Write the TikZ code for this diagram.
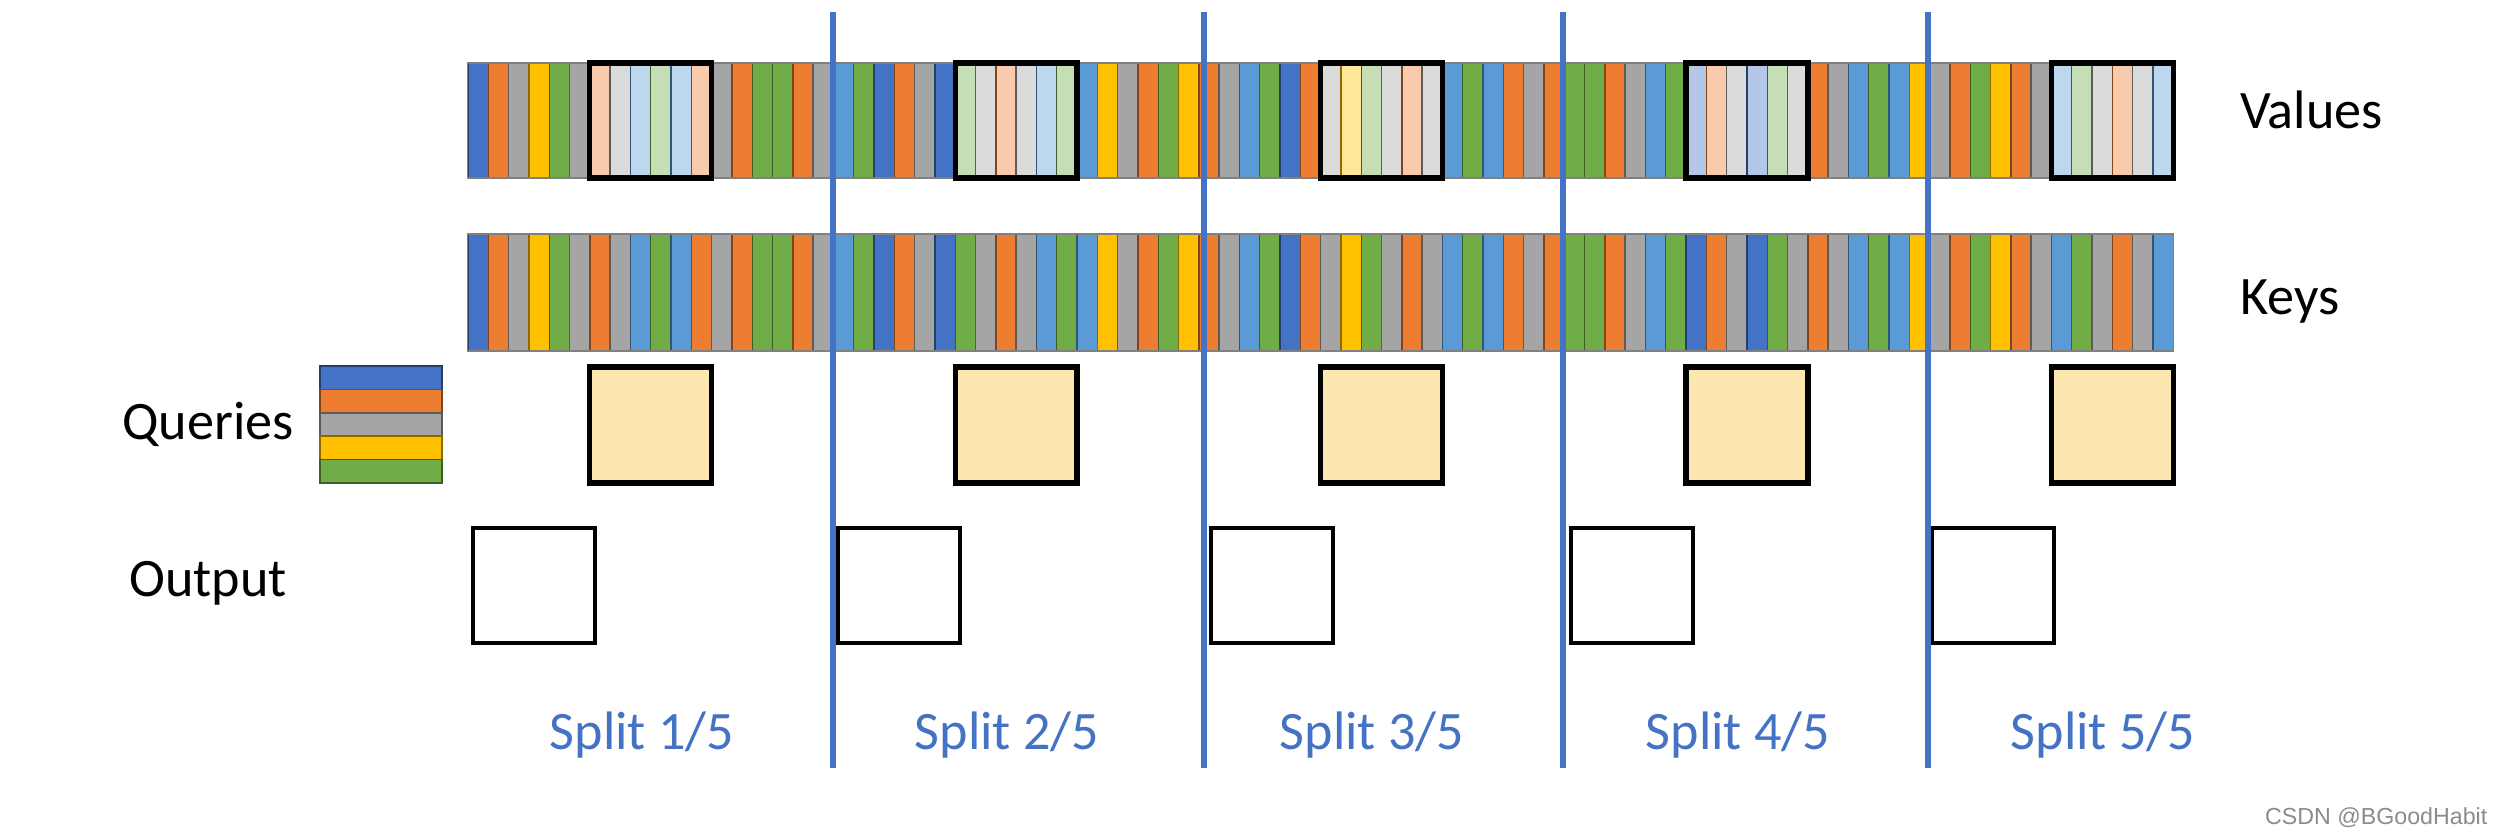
\documentclass[tikz,border=0pt]{standalone}
\usepackage{fontspec}
\setmainfont{Carlito}
\newfontfamily\wmfont{Liberation Sans}
\usetikzlibrary{positioning}

\definecolor{kblue}{HTML}{4472C4}
\definecolor{korange}{HTML}{ED7D31}
\definecolor{kgray}{HTML}{A5A5A5}
\definecolor{kyellow}{HTML}{FFC000}
\definecolor{kgreen}{HTML}{70AD47}
\definecolor{klblue}{HTML}{5B9BD5}
\definecolor{qcream}{RGB}{253,231,176}

% stripe order of the keys (values use the same one)
\def\pata{kblue,korange,kgray,kyellow,kgreen,kgray,korange,kgray,klblue,kgreen,klblue,korange,kgray,korange,kgreen,kgreen,korange,kgray,klblue,kgreen}
\def\patb{kblue,korange,kgray,kblue,kgreen,kgray,korange,kgray,klblue,kgreen,klblue,kyellow,kgray,korange,kgreen,kyellow,korange,kgray,klblue,kgreen}
\edef\keylist{\pata,\patb,\pata,\patb,kgray,korange,kgray,klblue}

\tikzset{
  lbl/.style={inner sep=0pt, font=\fontsize{15.4}{18}\selectfont},
  splitlbl/.style={lbl, text=kblue},
  splitline/.style={kblue, line width=1.5pt},
  vbox/.style={draw=black, line width=1.5pt, minimum width=1.218cm, minimum height=1.15cm, inner sep=0pt},
  qbox/.style={vbox, fill=qcream, minimum height=1.16cm},
  obox/.style={draw=black, line width=1.3pt, minimum width=1.22cm, minimum height=1.15cm, inner sep=0pt},
  barbox/.style={draw=black!50, line width=0.4pt, minimum width=17.052cm, inner sep=0pt}
}

\begin{document}
\begin{tikzpicture}[x=0.01cm, y=-0.01cm]
  \useasboundingbox (0,0) rectangle (2498,834);
  \fill[white] (0,0) rectangle (2498,834);

  % values and keys stripes
  \foreach \c [count=\i from 0] in \keylist {
    \pgfmathtruncatemacro\m{mod(\i,18)}
    \ifnum\m<6 \def\valcol{\c}\else\ifnum\m>11 \def\valcol{\c}\else\def\valcol{\c!40!white}\fi\fi
    \filldraw[fill=\valcol, draw=\c!55!black, line width=0.4pt] ({468+20.3*\i},63) rectangle ++(20.3,115);
    \filldraw[fill=\c, draw=\c!55!black, line width=0.4pt] ({468+20.3*\i},234) rectangle ++(20.3,117);
  }
  \node[barbox, minimum height=1.15cm] (vbar) at (1320.6,120.5) {};
  \node[barbox, minimum height=1.17cm] (kbar) at (1320.6,292.5) {};

  % query legend
  \foreach \c [count=\j from 0] in {kblue,korange,kgray,kyellow,kgreen}
    \filldraw[fill=\c, draw=\c!55!black, line width=0.4pt] (320,{366+23.4*\j}) rectangle ++(122,23.4);
  \node[inner sep=0pt, minimum width=1.22cm, minimum height=1.17cm] (qleg) at (381,424.5) {};

  \foreach \k in {0,...,4} {
    \node[vbox] (v\k) at ({468+20.3*(6+18*\k)+60.9},120.5) {};
    \node[qbox] (q\k) at ({468+20.3*(6+18*\k)+60.9},425) {};
  }
  \foreach \x [count=\k] in {534,899,1272,1632,1993}
    \node[obox] (o\k) at (\x,585.5) {};

  \node[lbl, right=0.65cm of vbar, yshift=0.11cm] (vtxt) {Values};
  \node[lbl, right=0.65cm of kbar, yshift=-0.09cm] (ktxt) {Keys};
  \node[lbl, left=0.25cm of qleg] (qtxt) {Queries};
  \node[lbl, left=1.83cm of o1, yshift=0.02cm] (otxt) {Output};

  \foreach \x [count=\k] in {642,1007,1372,1738,2103}
    \node[splitlbl, anchor=base] (s\k) at (\x,749) {Split \k/5};

  % split borders
  \foreach \x [count=\k] in {833,1204,1563,1928} {
    \coordinate (t\k) at (\x,12);
    \coordinate (b\k) at (\x,768);
    \draw[splitline] (t\k) -- (b\k);
  }

  \node[font=\wmfont\fontsize{6.6}{8}\selectfont, text=black!45, anchor=base east, inner sep=0pt] (wm) at (2488,824) {CSDN @BGoodHabit};
\end{tikzpicture}
\end{document}
